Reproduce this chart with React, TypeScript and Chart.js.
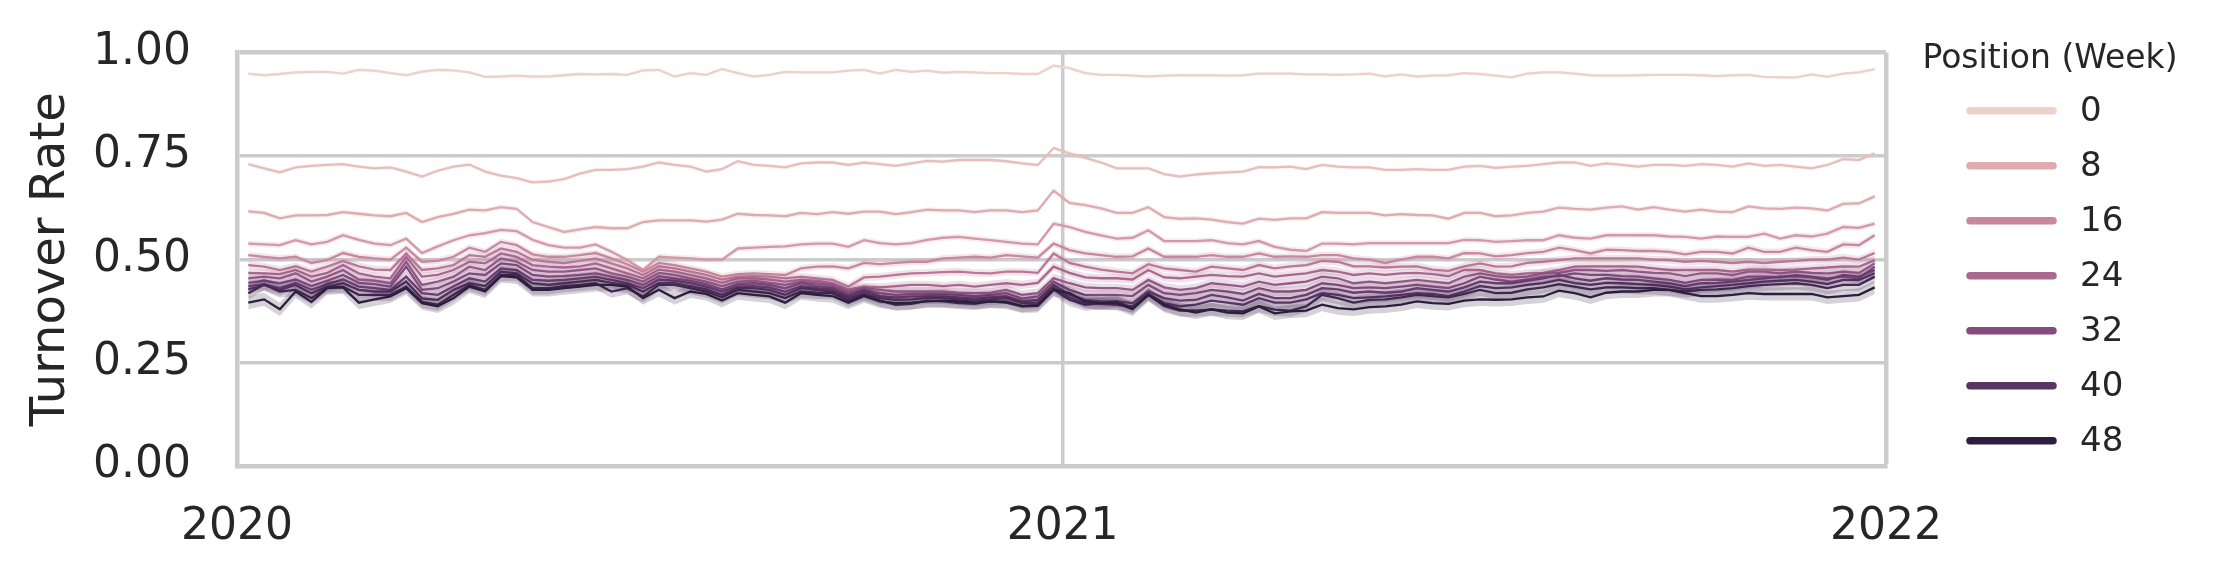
import React, { useEffect, useRef } from 'react';
import { Chart, registerables } from 'chart.js';

Chart.register(...registerables);

const FONT = '"DejaVu Sans", "Liberation Sans", sans-serif';

// ---- axis / category data ----
const AXIS_START = '2020-01-01';
const FIRST_WEEK = '2020-01-06';
const yearTickLabels = ['2020', '2021', '2022'];
const yTickValues = [0, 0.25, 0.5, 0.75, 1];
const Y_LABEL = 'Turnover Rate';
const LEGEND_TITLE = 'Position (Week)';

// hue levels drawn (position in weeks) and legend entries
const positions = [0, 4, 8, 12, 16, 20, 24, 28, 32, 36, 40, 44, 48];
const legendPositions = [0, 8, 16, 24, 32, 40, 48];
// half width of the confidence band of each position
const ciHalfWidth = [0.004, 0.005, 0.006, 0.007, 0.008, 0.009, 0.010, 0.011, 0.012, 0.013, 0.014, 0.015, 0.016];

// ---- weekly turnover rate per position (104 weeks, from 2020-01-06) ----
const pos0 = [
  0.949,0.945,0.948,0.952,0.953,0.953,0.949,0.958,0.956,0.950,0.945,0.954,0.958,0.957,0.952,0.941,0.942,0.944,0.942,0.942,0.945,0.948,0.947,0.948,0.946,0.957,
  0.958,0.942,0.950,0.946,0.960,0.950,0.942,0.946,0.953,0.952,0.952,0.952,0.956,0.958,0.949,0.958,0.953,0.956,0.951,0.953,0.952,0.950,0.950,0.948,0.948,0.968,
  0.962,0.950,0.946,0.946,0.944,0.942,0.944,0.945,0.945,0.945,0.944,0.945,0.949,0.949,0.949,0.947,0.947,0.946,0.947,0.949,0.942,0.947,0.942,0.944,0.945,0.950,
  0.948,0.944,0.940,0.949,0.952,0.952,0.949,0.945,0.944,0.944,0.945,0.946,0.946,0.946,0.945,0.943,0.945,0.946,0.941,0.940,0.940,0.947,0.941,0.949,0.952,0.960,
];
const pos4 = [
  0.730,0.720,0.710,0.722,0.726,0.728,0.730,0.724,0.720,0.722,0.712,0.700,0.714,0.724,0.729,0.712,0.702,0.696,0.686,0.688,0.694,0.707,0.716,0.716,0.718,0.724,
  0.734,0.728,0.724,0.712,0.718,0.737,0.728,0.726,0.722,0.732,0.734,0.734,0.728,0.734,0.730,0.726,0.732,0.738,0.736,0.740,0.740,0.740,0.737,0.732,0.728,0.769,
  0.756,0.745,0.734,0.720,0.720,0.720,0.706,0.700,0.705,0.708,0.710,0.712,0.723,0.722,0.724,0.718,0.728,0.724,0.722,0.722,0.716,0.716,0.718,0.716,0.716,0.724,
  0.726,0.721,0.724,0.726,0.730,0.734,0.734,0.726,0.732,0.728,0.724,0.728,0.728,0.726,0.730,0.728,0.724,0.732,0.726,0.728,0.724,0.720,0.728,0.742,0.740,0.756,
];
const pos8 = [
  0.616,0.612,0.599,0.606,0.606,0.607,0.614,0.610,0.606,0.604,0.612,0.590,0.602,0.610,0.620,0.618,0.626,0.622,0.590,0.578,0.566,0.572,0.578,0.575,0.575,0.590,
  0.594,0.594,0.594,0.591,0.596,0.610,0.607,0.606,0.604,0.612,0.609,0.614,0.610,0.615,0.615,0.609,0.614,0.620,0.618,0.618,0.614,0.618,0.618,0.614,0.618,0.666,
  0.636,0.631,0.623,0.612,0.612,0.626,0.602,0.598,0.599,0.596,0.590,0.586,0.598,0.595,0.599,0.599,0.614,0.612,0.612,0.612,0.606,0.609,0.607,0.606,0.598,0.612,
  0.612,0.604,0.606,0.612,0.615,0.625,0.622,0.620,0.625,0.628,0.620,0.626,0.620,0.615,0.620,0.615,0.614,0.628,0.623,0.622,0.625,0.623,0.618,0.634,0.635,0.652,
];
const pos12 = [
  0.538,0.536,0.534,0.546,0.536,0.542,0.558,0.547,0.538,0.534,0.550,0.515,0.531,0.546,0.558,0.563,0.571,0.568,0.547,0.534,0.528,0.528,0.536,0.518,0.498,0.474,
  0.506,0.504,0.502,0.499,0.499,0.526,0.528,0.530,0.531,0.536,0.538,0.538,0.530,0.546,0.539,0.536,0.539,0.547,0.552,0.554,0.550,0.546,0.542,0.538,0.536,0.586,
  0.578,0.566,0.558,0.550,0.552,0.570,0.544,0.544,0.544,0.546,0.539,0.536,0.544,0.530,0.523,0.520,0.538,0.538,0.536,0.539,0.539,0.539,0.539,0.539,0.539,0.547,
  0.546,0.542,0.544,0.546,0.546,0.558,0.552,0.550,0.558,0.558,0.558,0.558,0.555,0.554,0.550,0.555,0.554,0.554,0.562,0.550,0.558,0.555,0.562,0.578,0.576,0.586,
];
const pos16 = [
  0.510,0.506,0.502,0.506,0.491,0.498,0.515,0.506,0.502,0.499,0.528,0.494,0.496,0.506,0.528,0.518,0.542,0.534,0.512,0.506,0.506,0.510,0.515,0.502,0.488,0.470,
  0.491,0.486,0.478,0.470,0.458,0.464,0.466,0.464,0.462,0.478,0.482,0.483,0.478,0.491,0.488,0.491,0.494,0.494,0.502,0.504,0.506,0.504,0.510,0.507,0.504,0.538,
  0.522,0.514,0.510,0.506,0.507,0.526,0.506,0.506,0.506,0.510,0.506,0.506,0.514,0.506,0.507,0.506,0.510,0.510,0.502,0.499,0.491,0.499,0.506,0.506,0.502,0.515,
  0.514,0.507,0.510,0.515,0.518,0.528,0.522,0.514,0.523,0.522,0.520,0.520,0.518,0.512,0.518,0.518,0.514,0.528,0.518,0.518,0.528,0.522,0.518,0.536,0.534,0.558,
];
const pos20 = [
  0.486,0.482,0.474,0.483,0.470,0.482,0.496,0.483,0.475,0.474,0.514,0.474,0.478,0.486,0.510,0.506,0.526,0.518,0.499,0.494,0.491,0.496,0.502,0.490,0.478,0.462,
  0.483,0.478,0.470,0.462,0.451,0.458,0.459,0.458,0.454,0.458,0.454,0.450,0.434,0.456,0.458,0.462,0.466,0.467,0.469,0.470,0.467,0.466,0.470,0.470,0.467,0.514,
  0.491,0.482,0.475,0.470,0.466,0.488,0.478,0.474,0.470,0.482,0.478,0.474,0.486,0.478,0.483,0.486,0.496,0.494,0.483,0.483,0.480,0.482,0.483,0.475,0.472,0.483,
  0.490,0.482,0.483,0.491,0.494,0.498,0.502,0.502,0.502,0.502,0.502,0.499,0.498,0.494,0.496,0.494,0.491,0.494,0.491,0.494,0.496,0.499,0.499,0.504,0.499,0.515,
];
const pos24 = [
  0.467,0.466,0.464,0.474,0.458,0.467,0.486,0.466,0.458,0.454,0.506,0.458,0.462,0.474,0.494,0.490,0.514,0.506,0.486,0.482,0.480,0.483,0.490,0.478,0.466,0.454,
  0.475,0.470,0.462,0.454,0.443,0.454,0.454,0.451,0.446,0.450,0.448,0.442,0.427,0.434,0.432,0.435,0.438,0.438,0.435,0.438,0.434,0.438,0.442,0.438,0.443,0.482,
  0.467,0.456,0.454,0.454,0.451,0.474,0.456,0.454,0.458,0.462,0.459,0.458,0.466,0.458,0.462,0.466,0.474,0.470,0.462,0.466,0.462,0.466,0.467,0.464,0.459,0.474,
  0.474,0.466,0.462,0.466,0.467,0.474,0.482,0.483,0.483,0.483,0.482,0.478,0.474,0.474,0.474,0.474,0.470,0.475,0.475,0.474,0.475,0.478,0.480,0.483,0.482,0.498,
];
const pos28 = [
  0.454,0.458,0.454,0.466,0.446,0.458,0.474,0.451,0.448,0.442,0.494,0.438,0.446,0.458,0.482,0.474,0.502,0.494,0.474,0.470,0.470,0.474,0.478,0.466,0.458,0.446,
  0.467,0.462,0.454,0.446,0.435,0.446,0.448,0.443,0.438,0.446,0.442,0.438,0.422,0.430,0.426,0.422,0.422,0.422,0.422,0.419,0.418,0.419,0.426,0.414,0.418,0.454,
  0.442,0.432,0.430,0.430,0.426,0.450,0.432,0.426,0.430,0.442,0.438,0.434,0.446,0.438,0.442,0.446,0.458,0.454,0.442,0.446,0.442,0.446,0.450,0.446,0.442,0.458,
  0.466,0.459,0.456,0.458,0.466,0.467,0.474,0.474,0.472,0.474,0.470,0.467,0.466,0.459,0.466,0.466,0.462,0.470,0.470,0.466,0.470,0.467,0.466,0.470,0.467,0.490,
];
const pos32 = [
  0.443,0.448,0.442,0.451,0.435,0.448,0.462,0.443,0.440,0.434,0.482,0.426,0.430,0.446,0.466,0.462,0.490,0.486,0.462,0.458,0.459,0.462,0.466,0.458,0.450,0.438,
  0.459,0.454,0.448,0.440,0.427,0.440,0.442,0.438,0.430,0.442,0.435,0.432,0.416,0.426,0.418,0.414,0.416,0.416,0.416,0.414,0.411,0.414,0.418,0.405,0.410,0.446,
  0.426,0.414,0.414,0.414,0.411,0.438,0.418,0.414,0.418,0.426,0.422,0.416,0.430,0.422,0.422,0.426,0.442,0.438,0.430,0.432,0.430,0.434,0.438,0.434,0.430,0.442,
  0.458,0.451,0.446,0.451,0.458,0.459,0.466,0.462,0.462,0.459,0.458,0.454,0.450,0.443,0.450,0.451,0.450,0.458,0.458,0.456,0.462,0.458,0.454,0.458,0.454,0.482,
];
const pos36 = [
  0.435,0.440,0.430,0.443,0.426,0.440,0.451,0.434,0.430,0.426,0.458,0.418,0.414,0.434,0.454,0.446,0.478,0.474,0.450,0.448,0.450,0.454,0.458,0.450,0.442,0.430,
  0.451,0.448,0.442,0.434,0.422,0.434,0.435,0.432,0.422,0.435,0.430,0.427,0.411,0.422,0.411,0.408,0.410,0.410,0.410,0.408,0.405,0.408,0.411,0.398,0.402,0.438,
  0.414,0.402,0.398,0.398,0.394,0.422,0.406,0.400,0.402,0.414,0.408,0.400,0.416,0.406,0.406,0.414,0.430,0.427,0.419,0.422,0.419,0.422,0.430,0.426,0.422,0.432,
  0.446,0.442,0.442,0.448,0.454,0.462,0.454,0.448,0.454,0.451,0.450,0.446,0.442,0.435,0.442,0.443,0.446,0.450,0.454,0.458,0.459,0.456,0.450,0.462,0.458,0.474,
];
const pos40 = [
  0.427,0.438,0.426,0.438,0.418,0.434,0.442,0.426,0.422,0.422,0.446,0.405,0.402,0.426,0.442,0.435,0.470,0.466,0.442,0.438,0.442,0.446,0.450,0.443,0.438,0.422,
  0.443,0.442,0.435,0.427,0.414,0.430,0.430,0.426,0.414,0.430,0.426,0.422,0.406,0.416,0.406,0.402,0.403,0.406,0.406,0.403,0.400,0.403,0.406,0.394,0.395,0.432,
  0.408,0.394,0.392,0.390,0.386,0.416,0.394,0.386,0.390,0.400,0.395,0.390,0.406,0.395,0.395,0.403,0.418,0.414,0.406,0.408,0.410,0.414,0.418,0.416,0.411,0.422,
  0.435,0.430,0.432,0.438,0.442,0.450,0.442,0.438,0.443,0.442,0.440,0.438,0.434,0.427,0.432,0.435,0.438,0.442,0.446,0.448,0.450,0.446,0.440,0.450,0.450,0.466,
];
const pos44 = [
  0.418,0.439,0.422,0.426,0.406,0.432,0.434,0.414,0.414,0.414,0.434,0.397,0.390,0.414,0.438,0.426,0.462,0.462,0.430,0.430,0.435,0.438,0.442,0.422,0.430,0.410,
  0.438,0.438,0.430,0.422,0.408,0.426,0.422,0.418,0.406,0.422,0.419,0.418,0.400,0.414,0.400,0.390,0.392,0.400,0.398,0.394,0.392,0.398,0.398,0.387,0.390,0.427,
  0.402,0.390,0.394,0.398,0.382,0.414,0.387,0.376,0.376,0.379,0.376,0.374,0.387,0.378,0.376,0.386,0.414,0.406,0.395,0.402,0.403,0.408,0.414,0.411,0.408,0.416,
  0.426,0.418,0.419,0.427,0.432,0.440,0.434,0.427,0.432,0.432,0.430,0.430,0.426,0.422,0.426,0.427,0.430,0.435,0.438,0.440,0.442,0.438,0.430,0.438,0.438,0.458,
];
const pos48 = [
  0.395,0.403,0.379,0.422,0.397,0.430,0.432,0.395,0.403,0.410,0.430,0.394,0.386,0.406,0.434,0.422,0.459,0.456,0.426,0.426,0.430,0.434,0.438,0.438,0.434,0.406,
  0.426,0.406,0.422,0.416,0.400,0.418,0.414,0.410,0.395,0.418,0.414,0.411,0.395,0.411,0.398,0.394,0.395,0.398,0.400,0.398,0.395,0.398,0.395,0.386,0.387,0.426,
  0.418,0.398,0.394,0.394,0.379,0.414,0.390,0.379,0.371,0.379,0.371,0.369,0.386,0.369,0.374,0.376,0.390,0.382,0.379,0.384,0.386,0.390,0.398,0.394,0.392,0.400,
  0.403,0.402,0.403,0.408,0.410,0.424,0.418,0.408,0.419,0.422,0.422,0.426,0.426,0.418,0.411,0.411,0.414,0.418,0.416,0.416,0.416,0.416,0.408,0.411,0.414,0.432,
];

const seriesValues = [pos0, pos4, pos8, pos12, pos16, pos20, pos24, pos28, pos32, pos36, pos40, pos44, pos48];

// ---- helpers ----
const DAY_MS = 86400000;
const dayOffset = (d: string) => (Date.parse(d + 'T00:00:00Z') - Date.parse(AXIS_START + 'T00:00:00Z')) / DAY_MS;
const yearTickValues = yearTickLabels.map((y) => dayOffset(`${y}-01-01`));
const firstDay = dayOffset(FIRST_WEEK);
const maxPos = Math.max(...positions);
const minPos = Math.min(...positions);

// seaborn default cubehelix colormap ("ch:")
function cubehelix(t: number): [number, number, number] {
  const light = 0.85, dark = 0.15, start = 0, rot = 0.4, gamma = 1, hue = 0.8;
  const x = light + (dark - light) * t;
  const xg = Math.pow(x, gamma);
  const a = (hue * xg * (1 - xg)) / 2;
  const phi = 2 * Math.PI * (start / 3 + rot * x);
  const c = Math.cos(phi), s = Math.sin(phi);
  const r = xg + a * (-0.14861 * c + 1.78277 * s);
  const g = xg + a * (-0.29227 * c - 0.90649 * s);
  const b = xg + a * (1.97294 * c);
  const cl = (v: number) => Math.round(Math.min(1, Math.max(0, v)) * 255);
  return [cl(r), cl(g), cl(b)];
}
const hueColor = (p: number, alpha = 1) => {
  const [r, g, b] = cubehelix((p - minPos) / (maxPos - minPos));
  return `rgba(${r},${g},${b},${alpha})`;
};

const TEXT = '#262626';
const GRID = '#cccccc';

const legendPlugin = {
  id: 'hueLegend',
  afterDraw(chart: any) {
    const { ctx, chartArea } = chart;
    const x0 = chartArea.right + 84;
    ctx.save();
    ctx.fillStyle = TEXT;
    ctx.textBaseline = 'middle';
    ctx.textAlign = 'center';
    ctx.font = `33px ${FONT}`;
    ctx.fillText(LEGEND_TITLE, x0 + 80, 59.5);
    legendPositions.forEach((p, j) => {
      const y = 110.7 + 55 * j;
      ctx.strokeStyle = hueColor(p);
      ctx.lineWidth = 7.5;
      ctx.lineCap = 'round';
      ctx.beginPath();
      ctx.moveTo(x0, y);
      ctx.lineTo(x0 + 83, y);
      ctx.stroke();
      ctx.fillStyle = TEXT;
      ctx.textAlign = 'left';
      ctx.font = `34px ${FONT}`;
      ctx.fillText(String(p), x0 + 110, y + 1);
    });
    ctx.restore();
  },
};

export default function App() {
  const ref = useRef<HTMLCanvasElement>(null);

  useEffect(() => {
    document.body.style.margin = '0';
    const datasets: any[] = [];
    seriesValues.forEach((vals, i) => {
      const p = positions[i];
      const base = (seriesValues.length - i) * 3;
      const pts = (off: number) => vals.map((v, k) => ({ x: firstDay + 7 * k, y: v + off }));
      datasets.push({
        label: `ci-low-${p}`,
        data: pts(-ciHalfWidth[i]),
        borderColor: 'rgba(0,0,0,0)',
        borderWidth: 0,
        pointRadius: 0,
        fill: false,
        order: base + 2,
      });
      datasets.push({
        label: `ci-high-${p}`,
        data: pts(ciHalfWidth[i]),
        borderColor: 'rgba(0,0,0,0)',
        borderWidth: 0,
        pointRadius: 0,
        backgroundColor: hueColor(p, 0.2),
        fill: '-1',
        order: base + 1,
      });
      datasets.push({
        label: String(p),
        data: pts(0),
        borderColor: hueColor(p),
        borderWidth: 2.3,
        pointRadius: 0,
        fill: false,
        order: base,
      });
    });

    const chart = new Chart(ref.current as HTMLCanvasElement, {
      type: 'line',
      data: { datasets },
      options: {
        animation: false,
        responsive: false,
        devicePixelRatio: 1,
        events: [],
        layout: { padding: { top: 52.5, right: 337, bottom: 0, left: 0 } },
        elements: { line: { tension: 0 } },
        plugins: {
          legend: { display: false },
          tooltip: { enabled: false },
          title: { display: false },
        },
        scales: {
          x: {
            type: 'linear',
            min: yearTickValues[0],
            max: yearTickValues[yearTickValues.length - 1],
            afterBuildTicks: (axis: any) => {
              axis.ticks = yearTickValues.map((v) => ({ value: v }));
            },
            afterFit: (axis: any) => {
              axis.height = 117;
              axis.paddingLeft = 0;
              axis.paddingRight = 0;
            },
            grid: {
              color: GRID,
              lineWidth: (c: any) => (c.tick && c.tick.value === yearTickValues[yearTickValues.length - 1] ? 4.5 : 3.5),
              drawTicks: false,
            },
            border: { display: true, color: GRID, width: 4.5 },
            ticks: {
              autoSkip: false,
              maxRotation: 0,
              padding: 35,
              color: TEXT,
              font: { family: FONT, size: 44 },
              callback: (v: any) => {
                const idx = yearTickValues.indexOf(Number(v));
                return idx >= 0 ? yearTickLabels[idx] : '';
              },
            },
          },
          y: {
            type: 'linear',
            min: 0,
            max: 1,
            afterBuildTicks: (axis: any) => {
              axis.ticks = yTickValues.map((v) => ({ value: v }));
            },
            afterFit: (axis: any) => {
              axis.width = 237;
              axis.paddingTop = 0;
              axis.paddingBottom = 0;
            },
            grid: {
              color: GRID,
              lineWidth: (c: any) => (c.tick && c.tick.value === 1 ? 4.5 : 3.5),
              drawTicks: false,
            },
            border: { display: true, color: GRID, width: 4.5 },
            ticks: {
              padding: 46,
              color: TEXT,
              font: { family: FONT, size: 44 },
              callback: (v: any) => Number(v).toFixed(2),
            },
            title: {
              display: true,
              text: Y_LABEL,
              color: TEXT,
              font: { family: FONT, size: 48 },
              padding: { top: 23, bottom: 0 },
            },
          },
        },
      },
      plugins: [legendPlugin],
    } as any);
    return () => chart.destroy();
  }, []);

  return (
    <div style={{ width: 2223, height: 583, background: '#ffffff' }}>
      <canvas ref={ref} width={2223} height={583} style={{ display: 'block' }} />
    </div>
  );
}
